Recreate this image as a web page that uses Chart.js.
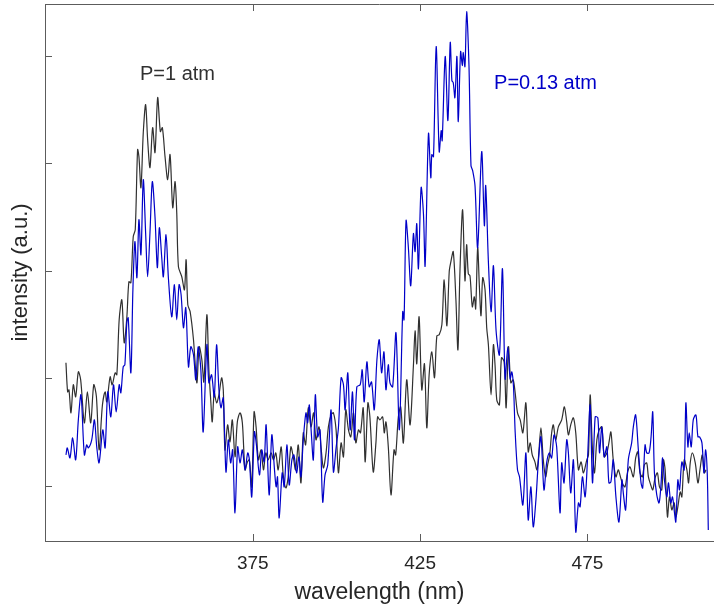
<!DOCTYPE html>
<html>
<head>
<meta charset="utf-8">
<script src="https://cdn.jsdelivr.net/npm/chart.js@4"></script>
<style>
html,body{margin:0;padding:0;background:#fff;}
canvas{display:block;}
</style>
</head>
<body>
<canvas id="c" width="714" height="613"></canvas>
<script>
// ---------- data ----------
const seriesNames = ['P=1 atm', 'P=0.13 atm'];

const wavelength1atm = [
319.2,319.7,320.1,320.7,321.4,322.1,322.9,323.6,324.7,325.6,
326.6,327.5,328.3,329.1,330.1,330.9,331.4,332.4,333.0,333.9,
334.4,335.1,335.9,336.6,337.4,338.0,338.6,339.3,339.9,340.6,
341.0,341.6,342.3,343.0,343.6,344.3,345.1,345.8,346.6,347.4,
348.0,348.8,349.6,350.3,351.1,351.8,352.3,352.8,353.8,354.6,
355.1,355.6,356.3,357.3,358.3,359.0,359.8,360.4,361.3,361.9,
362.5,362.9,363.5,364.2,364.9,365.7,366.2,366.7,367.5,368.2,
368.9,369.7,370.4,371.2,371.9,372.7,373.4,374.0,374.7,375.4,
376.0,376.7,377.5,378.2,378.9,379.6,380.5,381.2,381.9,382.6,
383.5,384.1,384.9,385.6,386.4,387.1,387.8,388.6,389.4,390.1,
390.8,391.6,392.4,393.2,393.9,394.8,395.4,396.1,396.9,397.6,
398.4,399.1,399.9,400.6,401.4,402.1,402.8,403.6,404.3,405.1,
405.8,406.6,407.2,408.0,408.6,409.4,410.0,411.0,411.8,412.3,
413.0,413.8,414.3,414.8,415.5,416.3,417.2,417.7,418.5,419.2,
420.0,421.0,422.0,423.0,423.5,424.0,424.7,425.5,426.3,427.0,
427.7,428.5,429.3,430.0,430.7,431.5,432.2,433.0,433.7,434.2,
434.9,435.7,436.3,436.9,437.7,438.4,438.9,439.4,439.9,440.6,
441.2,441.6,442.2,442.7,443.2,443.7,444.4,444.9,445.4,446.2,
446.9,447.4,447.9,448.7,449.3,450.1,450.7,451.4,452.1,452.8,
453.4,454.1,454.9,455.7,456.6,457.3,457.9,458.5,459.3,459.9,
460.3,461.1,461.8,462.5,463.1,463.7,464.3,464.8,465.5,466.3,
467.3,468.1,468.8,469.3,470.0,470.8,471.5,472.3,473.1,473.8,
474.8,475.3,475.8,476.5,477.1,477.8,478.5,479.3,480.0,480.8,
481.4,482.0,482.7,483.5,484.2,484.7,485.4,486.2,487.0,487.7,
488.7,489.4,490.0,490.7,491.4,492.0,492.7,493.2,493.9,494.5,
495.2,495.9,496.5,497.2,497.7,498.2,498.9,499.5,500.2,500.9,
501.4,502.0,502.7,503.2,503.9,504.7,505.2,505.7,506.3,507.2,
508.0,508.6,509.3,509.9,510.4
];
const intensity1atm = [
114.4,87.4,89.3,67.9,94.0,82.8,106.0,98.6,58.6,87.4,
58.6,94.0,82.8,33.5,75.3,87.4,78.1,101.4,94.0,105.1,
103.3,154.4,173.0,133.0,157.2,189.8,188.8,231.6,238.1,312.5,
306.0,277.2,328.4,354.4,321.9,295.8,333.0,309.8,360.9,329.3,
333.0,306.0,284.6,307.9,258.6,282.8,253.9,203.7,194.4,182.3,
210.2,168.4,161.9,135.8,95.8,129.3,117.2,96.7,159.1,107.9,
77.2,59.5,86.5,77.2,84.6,100.5,89.3,33.5,56.7,40.9,
61.4,27.0,59.5,67.9,58.6,14.9,22.3,24.2,-0.9,68.8,
54.9,24.2,33.5,14.9,30.7,24.2,30.7,24.2,30.7,14.9,
36.3,10.2,-1.9,8.4,36.3,27.0,14.9,38.1,2.8,49.3,
38.1,72.6,54.9,67.9,42.8,54.9,36.3,16.7,30.7,54.9,
66.0,67.9,52.1,12.1,40.0,27.0,70.7,52.1,45.6,67.9,
40.0,52.1,49.3,72.6,22.3,77.2,64.2,13.0,40.0,64.2,
61.4,64.2,49.3,59.5,36.3,-8.4,33.5,28.8,64.2,73.5,
40.0,98.6,56.7,111.6,144.2,113.5,157.2,89.3,113.5,54.0,
103.3,124.6,100.5,139.5,140.5,149.8,191.6,148.8,199.1,208.4,
217.7,173.0,126.5,199.1,256.7,190.7,224.2,197.2,195.3,166.5,
175.8,164.6,221.4,186.0,158.1,193.5,182.3,147.0,131.2,84.6,
131.2,111.6,80.0,75.3,119.1,115.3,72.6,129.3,95.8,98.6,
86.5,67.9,61.4,49.3,77.2,31.6,40.0,28.8,22.3,14.9,
24.2,54.0,24.2,8.4,19.5,28.8,49.3,56.7,42.8,54.9,
61.4,73.5,59.5,47.4,56.7,63.3,49.3,14.9,22.3,12.1,
24.2,28.8,84.6,33.5,12.1,42.8,52.1,54.9,27.0,30.7,
40.0,50.2,24.2,8.4,14.9,10.2,2.8,-0.9,13.0,17.7,
8.4,26.0,31.6,12.1,8.4,19.5,21.4,8.4,0.9,-3.7,
7.4,12.1,-0.9,-3.7,24.2,14.9,-28.8,-10.2,-22.3,-15.8,
-28.8,-19.5,-5.6,-10.2,24.2,14.9,2.8,21.4,30.7,21.4,
2.8,14.9,28.8,12.1,14.9
];

const wavelength013atm = [
319.2,319.6,320.4,321.2,322.1,322.9,323.7,324.7,325.4,325.9,
326.9,327.7,328.4,329.1,330.2,330.9,331.7,332.6,333.4,334.2,
335.1,335.6,336.3,336.8,337.4,337.8,338.6,339.2,339.8,340.4,
341.0,341.6,342.3,343.0,343.6,344.3,345.0,345.8,346.5,347.1,
347.8,348.3,349.1,349.8,350.8,351.6,352.3,353.0,353.6,354.3,
355.0,355.8,356.5,357.3,358.0,358.7,359.5,360.2,361.3,361.9,
362.7,363.5,364.2,364.9,365.5,366.2,367.0,367.7,368.4,369.0,
369.7,370.5,371.2,371.9,372.7,373.5,374.0,374.7,375.5,376.1,
377.0,377.7,378.4,379.0,379.9,380.7,381.5,382.0,382.4,382.9,
383.8,384.4,385.2,385.9,386.7,387.3,388.1,388.8,389.4,390.1,
390.9,391.4,391.9,392.4,393.1,393.7,394.4,395.1,395.9,396.6,
397.4,398.4,399.1,399.9,400.6,401.4,402.1,402.6,403.4,404.1,
404.8,405.4,406.1,407.1,407.7,408.3,409.1,409.8,410.5,411.3,
412.1,412.8,413.5,414.2,414.8,415.5,416.0,416.8,417.8,418.8,
419.8,420.2,420.8,421.5,422.2,423.0,423.5,424.0,424.5,425.3,
426.0,426.5,427.5,428.2,428.5,429.0,429.8,430.7,431.3,431.6,
432.5,433.3,434.0,434.5,434.9,435.4,436.0,436.4,437.1,437.6,
437.9,438.4,438.9,439.6,440.2,440.7,441.4,442.2,443.4,444.2,
444.6,445.4,446.2,446.9,447.7,448.7,449.6,450.4,451.2,451.9,
452.4,452.9,453.4,454.1,454.7,455.7,456.6,457.3,458.1,458.8,
459.6,460.3,461.1,462.0,462.8,463.6,464.3,465.0,465.8,466.8,
467.3,468.0,468.8,469.3,470.0,470.8,471.5,472.3,472.8,473.5,
474.3,475.0,475.8,476.5,477.3,478.1,478.6,479.3,480.0,480.8,
481.4,482.0,482.7,483.5,484.4,485.3,485.7,486.4,487.2,488.2,
488.7,489.4,490.2,491.0,491.5,492.2,492.7,493.4,494.0,494.5,
495.0,495.7,496.4,497.0,497.4,498.0,498.7,499.2,499.9,500.4,
501.0,501.4,502.0,502.5,503.2,503.9,504.4,505.0,505.4,506.0,
506.6,507.4,508.0,508.5,509.2,509.8,510.3,510.8,511.1
];
const intensity013atm = [
28.8,35.3,26.0,44.6,24.2,61.4,84.6,28.8,38.1,35.3,
42.8,61.4,36.3,21.4,52.1,35.3,87.4,64.2,94.0,68.8,
94.0,86.5,110.7,112.6,152.6,156.3,105.1,182.3,227.0,193.5,
247.4,214.9,284.6,235.3,194.4,235.3,282.8,250.2,202.8,240.0,
213.0,194.4,233.5,193.5,157.2,187.0,154.4,187.0,177.7,147.0,
165.6,110.7,129.3,121.9,98.6,129.3,107.9,50.2,131.2,95.8,
103.3,82.8,131.2,89.3,72.6,81.9,13.0,42.8,21.4,33.5,
-25.1,36.3,21.4,33.5,14.9,30.7,24.2,-10.2,50.2,38.1,
10.2,33.5,22.3,56.7,-8.4,47.4,14.9,-0.9,8.4,-29.8,
12.1,-0.9,38.1,0.9,24.2,28.8,12.1,27.0,8.4,42.8,
67.9,58.6,75.3,54.0,24.2,84.6,45.6,52.1,-14.9,10.2,
19.5,70.7,13.0,35.3,54.0,100.5,94.0,70.7,105.1,52.1,
87.4,42.8,92.1,94.0,107.9,78.1,115.3,92.1,96.7,70.7,
117.2,135.8,105.1,124.6,89.3,112.6,95.8,92.1,142.3,52.1,
161.9,154.4,246.5,221.4,186.0,234.4,217.7,243.7,201.9,277.2,
253.0,204.6,327.4,286.5,307.9,306.0,408.4,310.7,330.2,320.9,
399.1,339.5,412.1,376.7,374.9,360.9,399.1,338.6,403.7,390.7,
402.8,389.8,440.9,390.7,297.7,293.0,279.1,221.4,310.7,241.9,
279.1,208.4,161.9,204.6,144.2,121.9,201.9,99.5,129.3,99.5,
106.0,92.1,50.2,14.9,8.4,-17.7,30.7,-31.6,-0.9,-38.1,
-13.0,21.4,45.6,-3.7,21.4,30.7,26.0,47.4,36.3,-25.1,
21.4,2.8,42.8,30.7,-6.5,24.2,-42.8,-15.8,-19.5,8.4,
-10.2,24.2,75.3,2.8,64.2,63.3,30.7,54.9,27.0,36.3,
2.8,3.7,24.2,-10.2,-33.5,5.6,-6.5,-22.3,24.2,40.0,
54.9,66.0,33.5,2.8,-1.9,38.1,30.7,30.7,45.6,68.8,
12.1,-8.4,-15.8,2.8,26.0,5.6,-10.2,2.8,-15.8,-10.2,
-25.1,-33.5,5.6,-3.7,22.3,14.9,77.2,36.3,49.3,36.3,
61.4,66.0,45.6,45.6,40.0,12.1,33.5,10.2,-40.9
];

const xTickValues = [375, 425, 475];
const yTickValues = [0, 100, 200, 300, 400];
const xRange = [312.94, 512.8];
const yRange = [-51.2, 447.9];

// label anchors (data coordinates)
const annotationText = ['P=1 atm', 'P=0.13 atm'];
const annotationX = [341.3, 447.1];
const annotationY = [382, 374];

// ---------- styling ----------
const FONT = '"Liberation Sans", Arial, Helvetica, sans-serif';
const TEXT = '#262626';
const AXIS = '#5c5c5c';
const DARK = '#303030';
const BLUE = '#0000c8';
const annotationColor = [DARK, BLUE];

const decor = {
  id: 'decor',
  afterDraw(chart) {
    const {ctx, chartArea: a, scales: {x, y}} = chart;
    ctx.save();
    ctx.strokeStyle = AXIS;
    ctx.lineWidth = 1;
    ctx.beginPath();
    const topY = Math.round(a.top) + 0.5;
    ctx.moveTo(a.left, topY); ctx.lineTo(a.right, topY);
    xTickValues.forEach(v => {
      const px = Math.round(x.getPixelForValue(v)) + 0.5;
      ctx.moveTo(px, a.bottom); ctx.lineTo(px, a.bottom - 7);
      ctx.moveTo(px, a.top); ctx.lineTo(px, a.top + 7);
    });
    yTickValues.forEach(v => {
      const py = Math.round(y.getPixelForValue(v)) + 0.5;
      ctx.moveTo(a.left, py); ctx.lineTo(a.left + 7, py);
    });
    ctx.stroke();

    ctx.font = '20px ' + FONT;
    ctx.textAlign = 'left';
    ctx.textBaseline = 'middle';
    annotationText.forEach((t, i) => {
      ctx.fillStyle = annotationColor[i];
      ctx.fillText(t, x.getPixelForValue(annotationX[i]), y.getPixelForValue(annotationY[i]));
    });
    ctx.restore();
  }
};

const toPoints = (xs, ys) => xs.map((w, i) => ({x: w, y: ys[i]}));

new Chart(document.getElementById('c'), {
  type: 'line',
  data: {
    datasets: [
      {
        label: seriesNames[1],
        data: toPoints(wavelength013atm, intensity013atm),
        borderColor: BLUE, borderWidth: 1.2, pointRadius: 0, tension: 0.3, fill: false, order: 0
      },
      {
        label: seriesNames[0],
        data: toPoints(wavelength1atm, intensity1atm),
        borderColor: DARK, borderWidth: 1.2, pointRadius: 0, tension: 0.3, fill: false, order: 1
      }
    ]
  },
  options: {
    responsive: false,
    animation: false,
    devicePixelRatio: 1,
    layout: {padding: {top: 4, right: 0, bottom: 0, left: 0}},
    plugins: {legend: {display: false}, tooltip: {enabled: false}},
    scales: {
      x: {
        type: 'linear',
        position: 'bottom',
        min: xRange[0], max: xRange[1],
        afterBuildTicks: s => { s.ticks = xTickValues.map(v => ({value: v})); },
        afterFit: s => { s.height = 72; },
        grid: {drawOnChartArea: false, drawTicks: false},
        border: {display: true, color: AXIS, width: 1},
        ticks: {color: TEXT, font: {family: FONT, size: 19}, padding: 11, maxRotation: 0, autoSkip: false},
        title: {display: true, text: 'wavelength (nm)', color: TEXT, font: {family: FONT, size: 23}, padding: {top: 0, bottom: 7}}
      },
      y: {
        type: 'linear',
        position: 'left',
        min: yRange[0], max: yRange[1],
        afterBuildTicks: s => { s.ticks = yTickValues.map(v => ({value: v})); },
        afterFit: s => { s.width = 45; },
        grid: {drawOnChartArea: false, drawTicks: false},
        border: {display: true, color: AXIS, width: 1},
        ticks: {display: false},
        title: {display: true, text: 'intensity (a.u.)', color: TEXT, font: {family: FONT, size: 22}, padding: {top: 8, bottom: 0}}
      }
    }
  },
  plugins: [decor]
});
</script>
</body>
</html>
